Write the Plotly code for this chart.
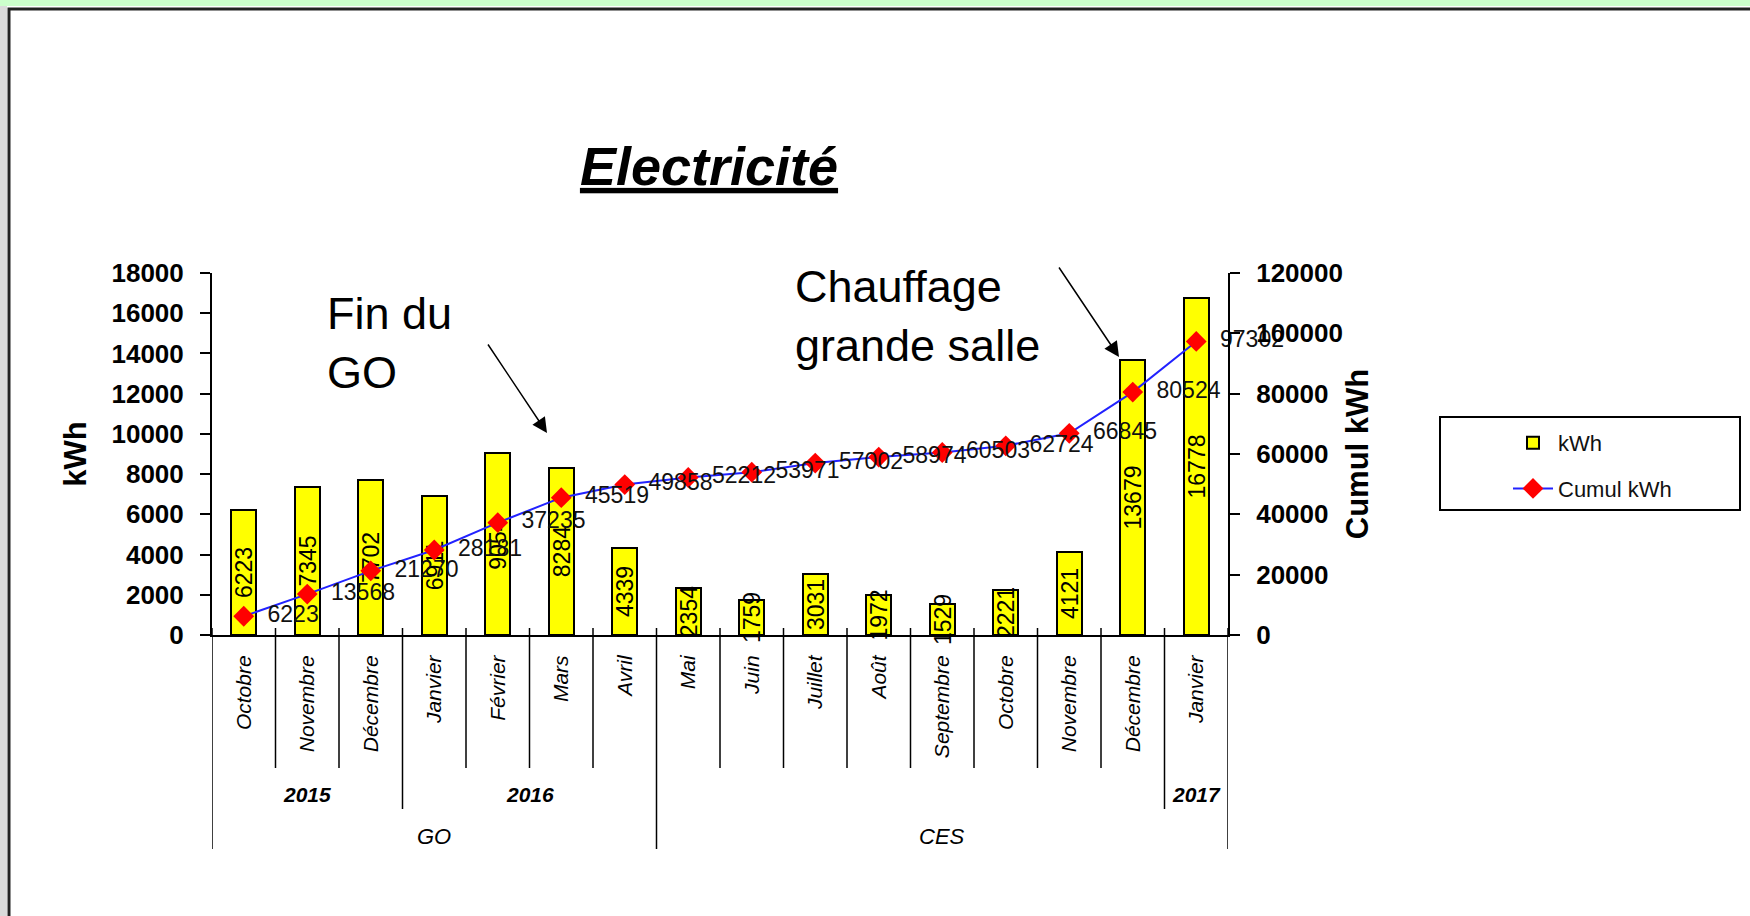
import plotly.graph_objects as go

# ---------------- data ----------------
months = ["Octobre", "Novembre", "Décembre", "Janvier", "Février", "Mars", "Avril",
          "Mai", "Juin", "Juillet", "Août", "Septembre", "Octobre", "Novembre",
          "Décembre", "Janvier"]
kwh = [6223, 7345, 7702, 6911, 9054, 8284, 4339, 2354, 1759, 3031, 1972, 1529,
       2221, 4121, 13679, 16778]
cumul_kwh = [6223, 13568, 21270, 28181, 37235, 45519, 49858, 52212, 53971, 57002,
             58974, 60503, 62724, 66845, 80524, 97302]
# (label, first index, last index)
year_spans = [("2015", 0, 2), ("2016", 3, 6), ("", 7, 14), ("2017", 15, 15)]
group_spans = [("GO", 0, 6), ("CES", 7, 15)]
title_text = "Electricité"
bar_name = "kWh"
line_name = "Cumul kWh"

# ---------------- layout geometry (pixels) ----------------
W, H = 1750, 916
PL, PR, PT, PB = 212, 1228, 273, 635  # plot area
PW, PH = PR - PL, PB - PT


def px_x(px):
    return (px - PL) / PW


def px_y(py):
    return (PB - py) / PH


FONT = "Liberation Sans, Arial, sans-serif"
NARROW = "Liberation Sans Narrow, Arial Narrow, Liberation Sans, Arial, sans-serif"

xs = list(range(len(months)))

fig = go.Figure()

fig.add_trace(go.Bar(
    x=xs, y=kwh, name=bar_name, width=0.4,
    marker=dict(color="#FFFF00", line=dict(color="#000000", width=2)),
    text=[str(v) for v in kwh], textposition="inside", insidetextanchor="middle",
    textangle=-90, constraintext="none",
    textfont=dict(family=FONT, size=23, color="#000000"),
    legendgroup="a", cliponaxis=False,
))

fig.add_trace(go.Scatter(
    x=xs, y=cumul_kwh, name=line_name, yaxis="y2",
    mode="lines+markers+text",
    line=dict(color="#2222FF", width=2),
    marker=dict(symbol="diamond", size=16, color="#FF0000"),
    text=["  " + str(v) for v in cumul_kwh], textposition="middle right",
    textfont=dict(family=FONT, size=23, color="#111111"),
    legendgroup="b", cliponaxis=False,
))

axis_common = dict(showgrid=False, zeroline=False)

fig.update_layout(
    width=W, height=H,
    margin=dict(l=PL, r=W - PR, t=PT, b=H - PB, pad=0),
    paper_bgcolor="white", plot_bgcolor="white",
    font=dict(family=FONT, color="#000000"),
    showlegend=True,
    bargap=0,
    uniformtext=dict(minsize=23, mode="show"),
    title=dict(
        text="<b><i><u>" + title_text + "</u></i></b>",
        font=dict(family=FONT, size=54, color="#000000"),
        x=px_x(709), xref="paper", xanchor="center",
        y=1 - 166 / H, yref="container", yanchor="middle",
    ),
    xaxis=dict(
        range=[-0.5, len(months) - 0.5], tickmode="array", tickvals=xs,
        ticktext=["<i>" + m + "</i>" for m in months], tickangle=-90,
        tickfont=dict(family=FONT, size=21, color="#000000"),
        showline=True, linecolor="#000000", linewidth=2, ticks="",
        ticklabelstandoff=10, fixedrange=True, **axis_common,
    ),
    yaxis=dict(
        range=[0, 18000], dtick=2000, tickformat="d",
        ticks="outside", ticklen=10, tickwidth=2, tickcolor="#000000",
        showline=True, linecolor="#000000", linewidth=2,
        tickfont=dict(family=FONT, size=26, weight="bold", color="#000000"),
        ticklabelstandoff=11,
        title=dict(text="<b>kWh</b>", font=dict(family=FONT, size=31), standoff=16),
        **axis_common,
    ),
    yaxis2=dict(
        range=[0, 120000], dtick=20000, tickformat="d", overlaying="y", side="right",
        ticks="outside", ticklen=10, tickwidth=2, tickcolor="#000000",
        showline=True, linecolor="#000000", linewidth=2,
        tickfont=dict(family=FONT, size=26, weight="bold", color="#000000"),
        ticklabelstandoff=11,
        title=dict(text="<b>Cumul kWh</b>", font=dict(family=FONT, size=31), standoff=4),
        **axis_common,
    ),
    yaxis3=dict(
        range=[0, 18000], dtick=2000, overlaying="y", side="left", anchor="x",
        ticks="inside", ticklen=10, tickwidth=2, tickcolor="#000000",
        showticklabels=False, showline=False, **axis_common,
    ),
    yaxis4=dict(
        range=[0, 120000], dtick=20000, overlaying="y", side="right", anchor="x",
        ticks="inside", ticklen=10, tickwidth=2, tickcolor="#000000",
        showticklabels=False, showline=False, **axis_common,
    ),
    legend=dict(
        x=px_x(1508), xanchor="left", y=px_y(466), yanchor="middle",
        bgcolor="rgba(0,0,0,0)", borderwidth=0,
        font=dict(family=FONT, size=22, color="#111111"),
        traceorder="grouped", tracegroupgap=14, itemwidth=40,
    ),
)

shapes = []
# outer frame decorations
shapes.append(dict(type="rect", xref="paper", yref="paper",
                   x0=px_x(0), x1=px_x(W), y0=px_y(0), y1=px_y(6),
                   fillcolor="#CCFFCC", line=dict(width=0), layer="below"))
shapes.append(dict(type="rect", xref="paper", yref="paper",
                   x0=px_x(0), x1=px_x(7), y0=px_y(6), y1=px_y(H),
                   fillcolor="#DADADA", line=dict(width=0), layer="below"))
shapes.append(dict(type="rect", xref="paper", yref="paper",
                   x0=px_x(9), x1=px_x(W + 20), y0=px_y(9), y1=px_y(H + 20),
                   fillcolor="rgba(0,0,0,0)", line=dict(color="#222222", width=3)))

# category separators (3 levels)
level_bottom = {"month": px_y(768), "year": px_y(809), "group": px_y(849)}
group_bounds = set()
for _, a, b in group_spans:
    group_bounds.add(a - 0.5)
    group_bounds.add(b + 0.5)
year_bounds = set()
for lbl, a, b in year_spans:
    year_bounds.add(a - 0.5)
    year_bounds.add(b + 0.5)
for i in range(len(months) + 1):
    bx = i - 0.5
    if bx in group_bounds:
        yb = level_bottom["group"]
    elif bx in year_bounds:
        yb = level_bottom["year"]
    else:
        yb = level_bottom["month"]
    shapes.append(dict(type="line", xref="x", yref="paper", x0=bx, x1=bx,
                       y0=px_y(628), y1=yb, line=dict(color="#000000", width=1.5)))

# legend frame
shapes.append(dict(type="rect", xref="paper", yref="paper",
                   x0=px_x(1440), x1=px_x(1740), y0=px_y(417), y1=px_y(510),
                   fillcolor="rgba(0,0,0,0)", line=dict(color="#000000", width=2)))
fig.update_layout(shapes=shapes)

annotations = []
for lbl, a, b in year_spans:
    if lbl:
        annotations.append(dict(text="<b><i>" + lbl + "</i></b>", x=(a + b) / 2, xref="x",
                                y=px_y(794), yref="paper", showarrow=False,
                                xanchor="center", yanchor="middle",
                                font=dict(family=NARROW, size=21, color="#000000")))
for lbl, a, b in group_spans:
    annotations.append(dict(text="<i>" + lbl + "</i>", x=(a + b) / 2, xref="x",
                            y=px_y(836), yref="paper", showarrow=False,
                            xanchor="center", yanchor="middle",
                            font=dict(family=NARROW, size=22, color="#000000")))

# callouts
annotations.append(dict(text="Fin du<br>GO", x=px_x(325), y=px_y(343), xref="paper", yref="paper",
                        xanchor="left", yanchor="middle", align="left", showarrow=False,
                        font=dict(family=FONT, size=45, color="#000000")))
annotations.append(dict(text="Chauffage<br>grande salle", x=px_x(793), y=px_y(316),
                        xref="paper", yref="paper", xanchor="left", yanchor="middle",
                        align="left", showarrow=False,
                        font=dict(family=FONT, size=45, color="#000000")))
annotations.append(dict(text="", x=px_x(547), y=px_y(433), xref="paper", yref="paper",
                        ax=-60, ay=-90, axref="pixel", ayref="pixel", showarrow=True,
                        arrowhead=2, arrowsize=2, arrowwidth=1.5, arrowcolor="#000000"))
annotations.append(dict(text="", x=px_x(1119), y=px_y(357), xref="paper", yref="paper",
                        ax=-61, ay=-91, axref="pixel", ayref="pixel", showarrow=True,
                        arrowhead=2, arrowsize=2, arrowwidth=1.5, arrowcolor="#000000"))
fig.update_layout(annotations=annotations)

# remove the page's default 8px body margin so the figure sits at the window origin
fig.write_html("out.html", config={"displayModeBar": False},
               post_script="document.body.style.margin='0px';")
